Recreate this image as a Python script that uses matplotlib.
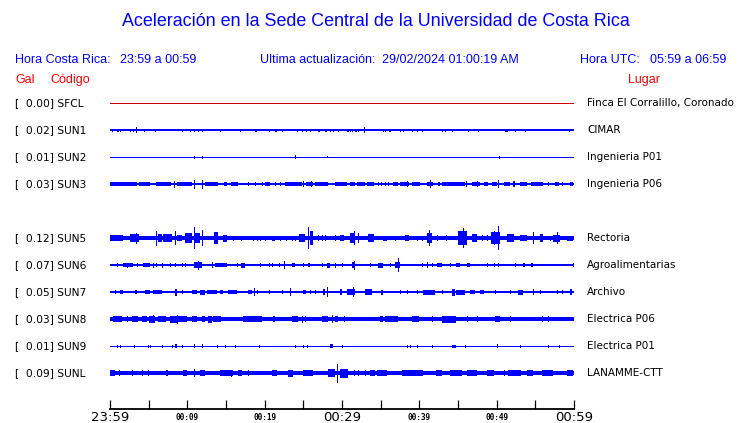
import numpy as np
import matplotlib
matplotlib.use("Agg")
import matplotlib.pyplot as plt

# estaciones (SUN4 sin datos -> fila vacia)
codes = ["SFCL", "SUN1", "SUN2", "SUN3", "SUN4", "SUN5", "SUN6", "SUN7", "SUN8", "SUN9", "SUNL"]
gal = [0.00, 0.02, 0.01, 0.03, None, 0.12, 0.07, 0.05, 0.03, 0.01, 0.09]
places = ["Finca El Corralillo, Coronado", "CIMAR", "Ingenieria P01", "Ingenieria P06", "",
          "Rectoria", "Agroalimentarias", "Archivo", "Electrica P06", "Electrica P01", "LANAMME-CTT"]

# nivel de ruido de fondo (amplitud relativa)
base = [0.5, 0.7, 0.5, 1.0, None, 2.0, 0.7, 0.7, 1.8, 0.5, 2.0]

# rafagas: (minuto inicio, minuto fin, amplitud relativa)
sfcl = []
sun1 = [(0.2, 0.2, 1.5), (0.85, 1.1, 1.5), (1.3, 1.3, 1.5), (2.6, 2.6, 1.5), (3.0, 3.0, 1.5),
        (3.35, 3.35, 3), (4.45, 4.45, 1.5), (5.8, 5.95, 1.5), (9.25, 9.25, 1.5), (10.35, 10.35, 1.5),
        (10.8, 10.8, 1.5), (11.4, 11.4, 1.5), (11.95, 11.95, 1.5), (14.2, 14.2, 1.5), (16.8, 16.8, 1.5),
        (18.75, 18.95, 1.5), (20.5, 20.7, 1.5), (21.3, 21.65, 1.5), (22.2, 22.2, 1.5), (24.15, 24.35, 1.5),
        (24.8, 24.8, 1.5), (25.4, 25.4, 1.5), (25.85, 25.85, 1.5), (26.95, 27.15, 1.5), (27.8, 28.0, 1.5),
        (28.45, 28.45, 1.5), (28.9, 28.9, 1.5), (29.5, 29.65, 1.5), (30.6, 30.6, 1.5), (30.8, 30.8, 1.5),
        (31.0, 31.0, 1.5), (31.25, 31.25, 1.5), (31.7, 31.9, 1.5), (32.1, 32.1, 1.5), (32.85, 32.85, 3),
        (35.25, 35.25, 1.5), (35.55, 35.55, 1.5), (36.1, 36.4, 1.5), (37.5, 37.5, 1.5), (37.95, 37.95, 1.5),
        (39.0, 39.0, 1.5), (39.65, 39.65, 1.5), (40.4, 40.4, 1.5), (42.9, 42.9, 1.5), (43.3, 43.3, 1.5),
        (44.2, 44.2, 1.5), (46.3, 46.3, 1.5), (47.6, 47.6, 1.5), (51.1, 51.5, 1.5), (52.4, 52.4, 1.5),
        (53.65, 53.65, 1.5), (59.4, 59.4, 1.5)]
sun2 = [(10.8, 10.8, 1.5), (11.85, 11.85, 1.5), (23.9, 23.9, 2), (28.0, 28.0, 1.2), (50.35, 50.35, 1.5)]
sun3 = [(0.0, 3.5, 2), (3.7, 5.2, 2), (6.0, 7.9, 2), (8.3, 8.3, 3.5), (8.6, 10.6, 2), (10.8, 10.8, 4.5),
        (11.85, 11.85, 4.5), (12.3, 14.0, 2), (14.7, 15.1, 2), (15.7, 16.6, 2), (17.9, 17.9, 2),
        (18.75, 18.75, 2), (19.6, 19.6, 2), (20.0, 20.7, 2), (21.3, 21.3, 2), (22.0, 22.0, 2),
        (22.65, 24.8, 2), (25.0, 25.0, 3), (25.4, 26.3, 2), (26.0, 26.0, 3), (26.5, 28.2, 2),
        (29.1, 30.6, 2), (31.0, 31.7, 2), (31.9, 33.0, 2), (33.2, 34.1, 2), (34.7, 34.7, 2),
        (35.1, 35.1, 2), (35.55, 35.55, 2), (36.0, 36.0, 2), (36.6, 37.3, 2), (37.5, 38.6, 2),
        (38.35, 38.35, 3), (39.0, 40.1, 2), (41.0, 41.8, 2), (41.4, 41.4, 4), (42.45, 42.7, 2),
        (42.9, 45.9, 2), (46.0, 46.0, 3), (46.75, 47.85, 2), (47.5, 47.5, 3), (48.3, 48.9, 2),
        (49.35, 50.0, 2), (50.2, 50.2, 4), (50.9, 51.7, 2), (52.15, 52.4, 3), (53.0, 53.9, 2),
        (54.5, 56.0, 2), (56.7, 56.7, 2), (57.5, 58.0, 2), (58.4, 58.4, 2), (59.5, 59.9, 2)]
sun5 = [(0.0, 1.7, 3), (2.6, 3.7, 4), (3.3, 3.4, 5.5), (6.0, 6.0, 7.5), (6.25, 6.7, 4), (6.9, 8.0, 4),
        (8.4, 8.4, 7), (8.6, 9.3, 3), (9.7, 10.6, 5), (10.8, 10.8, 11), (11.0, 11.6, 5), (11.85, 11.85, 8),
        (13.4, 14.0, 6), (14.6, 15.1, 3.5), (15.9, 15.9, 2.5), (17.0, 17.0, 2.5), (18.5, 18.5, 2.5),
        (19.0, 19.0, 2.5), (19.4, 19.4, 2.5), (20.0, 20.0, 2.5), (20.9, 21.3, 2.5), (22.0, 22.0, 2.5),
        (22.8, 22.8, 2.5), (23.5, 23.5, 2.5), (23.9, 23.9, 2.5), (24.4, 25.2, 4), (25.6, 25.6, 11),
        (25.9, 26.3, 7), (26.9, 26.9, 3), (27.4, 27.4, 3), (27.8, 27.8, 3), (29.1, 29.1, 3),
        (29.74, 30.2, 3), (31.0, 31.7, 5), (31.55, 31.55, 7), (32.1, 32.1, 5), (33.4, 34.1, 4),
        (35.3, 35.8, 2.5), (36.85, 36.85, 2.5), (38.1, 38.6, 3), (39.65, 39.65, 2.5), (40.3, 40.3, 2.5),
        (40.95, 41.6, 5), (41.2, 41.2, 8), (42.25, 42.25, 3), (43.5, 43.5, 3), (45.0, 46.1, 7),
        (45.6, 45.6, 10), (46.8, 47.4, 4), (48.05, 48.05, 3), (48.7, 48.7, 3), (49.3, 50.4, 6),
        (49.6, 49.6, 7), (50.2, 50.2, 12), (51.3, 52.2, 4), (53.0, 53.9, 3), (54.65, 54.65, 6),
        (55.6, 56.0, 4), (56.9, 56.9, 2.5), (57.3, 58.2, 3.5), (57.75, 57.75, 6), (59.05, 59.9, 2.5)]
sun6 = [(0.86, 0.86, 2), (1.7, 3.0, 2), (2.15, 2.15, 2.5), (3.45, 3.65, 2), (4.3, 5.2, 2), (5.6, 5.6, 2.5),
        (6.0, 6.0, 2), (6.75, 6.75, 2.5), (7.75, 7.75, 2), (8.4, 8.4, 2), (9.25, 9.25, 2), (9.7, 9.7, 2),
        (10.8, 11.85, 3), (11.4, 11.4, 4.5), (13.15, 13.35, 3), (13.6, 15.1, 2), (16.4, 16.4, 2),
        (17.0, 17.45, 2.5), (19.4, 19.4, 2), (20.5, 20.5, 2), (20.9, 20.9, 2), (21.8, 22.0, 2),
        (22.5, 22.5, 4), (23.5, 23.9, 2), (25.0, 25.0, 2), (25.65, 25.85, 2), (27.4, 27.4, 2),
        (28.0, 28.45, 2.5), (29.1, 29.1, 2.5), (29.95, 29.95, 2), (31.25, 31.7, 3), (31.5, 31.5, 4.5),
        (33.6, 33.6, 2), (34.7, 35.35, 2.5), (36.2, 36.2, 2), (36.85, 37.5, 3), (37.3, 37.3, 7),
        (40.3, 40.3, 2), (41.0, 41.0, 3), (41.6, 41.6, 2), (42.25, 42.9, 2), (43.95, 43.95, 2),
        (44.8, 45.25, 2), (46.1, 46.55, 2), (48.7, 48.7, 2), (49.6, 49.6, 2), (50.2, 50.2, 2),
        (52.4, 52.4, 2), (53.45, 53.65, 2), (54.5, 54.75, 2), (59.9, 59.9, 2)]
sun7 = [(0.65, 0.65, 2), (1.3, 1.7, 2), (3.2, 3.45, 2), (4.5, 5.2, 2), (5.6, 6.7, 2), (8.4, 8.6, 3.5),
        (9.25, 9.25, 2), (10.55, 11.2, 2), (11.65, 12.3, 2.5), (12.5, 13.8, 2), (14.2, 14.65, 2),
        (15.3, 16.4, 2), (17.9, 18.3, 2), (18.6, 18.6, 4), (19.0, 19.0, 2), (20.5, 20.5, 2),
        (22.2, 22.2, 2), (23.3, 23.3, 4), (25.0, 25.4, 2), (25.85, 25.85, 2), (26.5, 26.5, 2),
        (27.6, 27.8, 3), (28.1, 28.1, 5), (29.75, 29.95, 3), (30.6, 31.7, 3), (31.4, 31.4, 5),
        (32.95, 33.85, 3), (35.1, 35.35, 2.5), (37.5, 37.5, 2), (38.4, 38.4, 2), (39.65, 39.65, 2),
        (40.5, 42.0, 2.5), (42.9, 42.9, 2), (44.2, 44.6, 3.5), (44.8, 45.9, 2.5), (46.55, 47.2, 2),
        (47.85, 48.3, 2), (49.8, 49.8, 2), (51.7, 51.7, 2), (52.8, 53.45, 2.5), (54.75, 54.75, 3),
        (55.6, 55.6, 2), (57.75, 57.75, 2), (58.4, 58.4, 2), (59.5, 59.7, 3)]
sun8 = [(0.45, 1.5, 3), (2.15, 2.15, 3), (2.8, 3.65, 3), (4.1, 4.75, 3), (5.0, 5.8, 3.5), (5.6, 5.6, 4),
        (6.25, 7.3, 3), (7.75, 8.6, 3.5), (8.6, 8.6, 4.5), (8.85, 9.9, 3), (10.55, 11.2, 3),
        (11.85, 12.3, 3), (12.7, 13.15, 3.5), (13.35, 14.4, 3), (17.25, 19.6, 3), (21.1, 21.35, 3),
        (23.5, 24.35, 3), (24.8, 24.8, 3.5), (25.2, 25.4, 3), (27.4, 28.2, 3), (28.65, 28.65, 4),
        (29.1, 29.5, 3), (30.2, 30.2, 3), (34.9, 35.35, 3), (35.55, 37.3, 3), (39.0, 39.9, 3),
        (41.6, 41.6, 3), (42.9, 44.8, 3.5), (46.1, 46.1, 3), (47.4, 47.4, 3), (49.8, 50.4, 3),
        (51.7, 51.7, 3), (55.8, 55.8, 3), (56.7, 56.7, 3)]
sun9 = [(0.86, 0.86, 1.5), (1.3, 1.3, 1.5), (3.15, 3.15, 1.5), (4.95, 4.95, 1.5), (5.2, 5.2, 1.5),
        (6.7, 6.7, 1.5), (8.0, 8.0, 1.5), (8.4, 8.6, 2), (9.25, 9.25, 1.5), (10.8, 10.8, 2),
        (11.85, 12.05, 2), (13.8, 13.8, 1.5), (14.9, 14.9, 1.5), (16.1, 16.1, 1.5), (19.25, 19.25, 1.5),
        (23.9, 23.9, 1.5), (25.0, 25.0, 1.5), (25.45, 25.45, 1.5), (28.45, 28.9, 2), (29.95, 29.95, 1.5),
        (38.35, 38.35, 1.5), (38.8, 38.8, 1.5), (39.65, 39.65, 1.5), (41.6, 41.6, 1.5), (44.2, 44.8, 1.5),
        (45.9, 45.9, 1.5), (50.0, 50.0, 2), (53.0, 53.0, 1.5), (56.7, 56.7, 1.5), (58.0, 58.0, 1.5)]
sunl = [(0.0, 0.65, 3), (1.15, 1.15, 3), (2.8, 2.8, 3), (4.1, 4.3, 3), (4.85, 4.85, 3), (7.3, 7.55, 3),
        (9.5, 9.9, 3), (10.9, 10.9, 4), (11.65, 12.3, 3), (14.2, 15.95, 3), (15.65, 15.65, 3.5),
        (16.6, 17.05, 3), (17.9, 17.9, 3), (20.9, 21.55, 3), (23.05, 23.7, 3.5), (25.0, 26.3, 3),
        (28.25, 29.1, 4), (29.4, 29.4, 9.5), (29.7, 30.8, 4.5), (31.6, 31.6, 3), (32.1, 32.1, 3),
        (33.0, 33.0, 3), (33.6, 34.25, 3), (34.5, 35.8, 3), (37.7, 40.5, 3), (42.2, 42.9, 3),
        (43.95, 45.5, 3), (46.1, 47.4, 3), (48.7, 49.6, 3), (50.9, 50.9, 3), (51.5, 53.2, 3),
        (53.9, 54.75, 3), (55.8, 57.3, 3), (59.05, 59.9, 3)]
bursts = [sfcl, sun1, sun2, sun3, None, sun5, sun6, sun7, sun8, sun9, sunl]

tick_minutes = list(range(0, 61, 5))
tick_labels = ["23:59", "", "00:09", "", "00:19", "", "00:29", "", "00:39", "", "00:49", "", "00:59"]
big_labels = ["23:59", "00:29", "00:59"]

W, H = 740, 423
BLUE = "#0000ff"
RED = "#ff0000"
unit = 1 / 27.0   # amplitud relativa -> filas

fig = plt.figure(figsize=(W / 100, H / 100), dpi=100)
fig.patch.set_facecolor("white")

def fx(px):
    return px / W

def fy(py):
    return 1 - py / H

ax = fig.add_axes([fx(110), fy(409), fx(574) - fx(110), fy(89.5) - fy(409)])
ax.set_xlim(0, 60)
ax.set_ylim(11.333, -0.5)
for s in ["left", "right", "top"]:
    ax.spines[s].set_visible(False)
ax.spines["bottom"].set_linewidth(1.3)
ax.set_yticks([])
ax.set_xticks(tick_minutes, tick_labels)
ax.tick_params(axis="x", direction="in", length=6.5, width=0.9, pad=6)
for lbl in ax.get_xticklabels():
    lbl.set_va("center")
    if lbl.get_text() in big_labels:
        lbl.set_fontsize(9.5)
    else:
        lbl.set_fontfamily("DejaVu Sans Mono")
        lbl.set_fontweight("bold")
        lbl.set_fontsize(5.6)

for i, code in enumerate(codes):
    if gal[i] is None:
        continue
    color = "#cc0000" if code == "SFCL" else BLUE
    b0 = base[i] * unit
    # ruido de fondo
    ax.bar(0, 2 * b0, width=60, bottom=i - b0, align="edge",
           color=color, linewidth=0, antialiased=False)
    if bursts[i]:
        b = np.array(bursts[i])
        widths = np.maximum(b[:, 1] - b[:, 0], 0.13)
        ax.bar(b[:, 0], 2 * b[:, 2] * unit, width=widths, bottom=i - b[:, 2] * unit,
               align="edge", color=color, linewidth=0, antialiased=False)
    yy = fy(103 + 27 * i)
    fig.text(fx(15), yy, f"[  {gal[i]:.2f}] {code}", fontsize=7.7, va="center", color="black")
    fig.text(fx(587), yy, places[i], fontsize=7.5, va="center", color="black")

hdr = dict(family="Liberation Sans", fontsize=9, va="center")
fig.text(fx(375.5), fy(22), "Aceleración en la Sede Central de la Universidad de Costa Rica",
         family="Liberation Sans", fontsize=12.9, color=BLUE, ha="center", va="center")
fig.text(fx(15), fy(60), "Hora Costa Rica:", color=BLUE, **hdr)
fig.text(fx(120), fy(60), "23:59 a 00:59", color=BLUE, **hdr)
fig.text(fx(260), fy(60), "Ultima actualización:", color=BLUE, **hdr)
fig.text(fx(382), fy(60), "29/02/2024 01:00:19 AM", color=BLUE, **hdr)
fig.text(fx(580), fy(60), "Hora UTC:", color=BLUE, **hdr)
fig.text(fx(650), fy(60), "05:59 a 06:59", color=BLUE, **hdr)
fig.text(fx(15), fy(80), "Gal", color=RED, **hdr)
fig.text(fx(50), fy(80), "Código", color=RED, **hdr)
fig.text(fx(628), fy(80), "Lugar", color=RED, **hdr)

fig.savefig("out.png", dpi=100)
